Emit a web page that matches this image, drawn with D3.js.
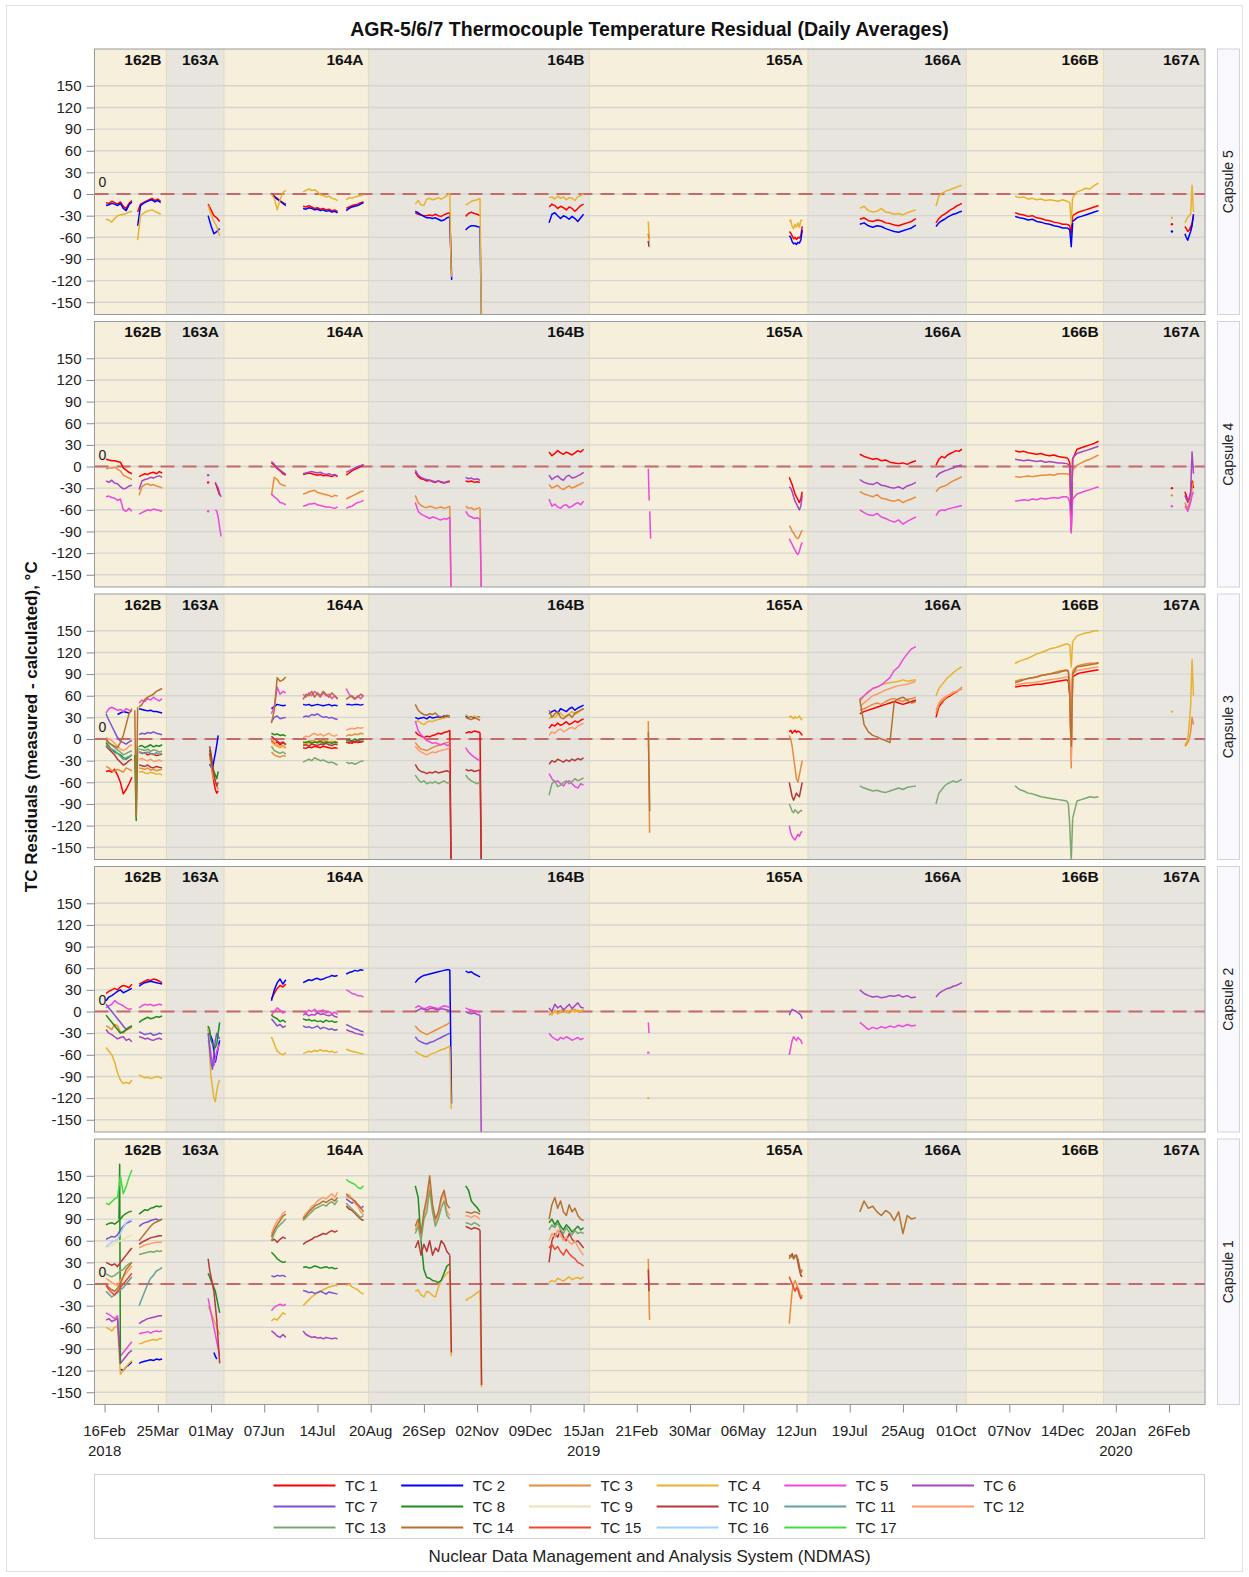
<!DOCTYPE html>
<html>
<head>
<meta charset="utf-8">
<script src="https://cdn.jsdelivr.net/npm/d3@7"></script>
<style>
  body { margin: 0; background: #fff; }
  svg { display: block; }
  text { font-family: "Liberation Sans", Arial, sans-serif; }
</style>
</head>
<body>
<svg id="chart" width="1249" height="1577"></svg>
<script>
// ---------- chart data ----------
const titleText = "AGR-5/6/7 Thermocouple Temperature Residual (Daily Averages)";
const yLabelText = "TC Residuals (measured - calculated), \u00B0C";
const footerText = "Nuclear Data Management and Analysis System (NDMAS)";

const tcNames = ["TC 1","TC 2","TC 3","TC 4","TC 5","TC 6","TC 7","TC 8","TC 9","TC 10","TC 11","TC 12","TC 13","TC 14","TC 15","TC 16","TC 17"];
const tcColors = ["#ff0000","#0000ff","#e88c3c","#e8b22e","#ee48dc","#a745c2","#7b52d6","#1e8c1e","#eee0b4","#b83838","#62a0a4","#ff9a6a","#7aa86e","#b5712f","#ee4634","#9fd0ff","#44dc44"];

const cycles = ["162B","163A","164A","164B","165A","166A","166B","167A"];
const cycleBreaks = ["2018-03-31","2018-05-10","2018-08-18T12:00Z","2019-01-19","2019-06-20","2019-10-08","2020-01-11T12:00Z"];
const xStart = "2018-02-09", xEnd = "2020-03-22";
const xTickDates = ["2018-02-16","2018-03-25","2018-05-01","2018-06-07","2018-07-14","2018-08-20","2018-09-26","2018-11-02","2018-12-09","2019-01-15","2019-02-21","2019-03-30","2019-05-06","2019-06-12","2019-07-19","2019-08-25","2019-10-01","2019-11-07","2019-12-14","2020-01-20","2020-02-26"];
const yearLabels = {"2018-02-16":"2018","2019-01-15":"2019","2020-01-20":"2020"};
const yTicks = [-150,-120,-90,-60,-30,0,30,60,90,120,150];
const yDomain = [-167, 201];
const capsuleNames = ["Capsule 5","Capsule 4","Capsule 3","Capsule 2","Capsule 1"];

// Each segment: [tc number, first day, days between readings, daily-average residuals]
const capsule5 = [
  [1,"2018-02-17",2,[-12,-13,-10,-12,-14,-11,-17,-20,-13,-9]],
  [2,"2018-02-17",2,[-16,-15,-13,-14,-16,-13,-20,-23,-15,-11]],
  [4,"2018-02-17",2,[-35,-36,-39,-34,-30,-29,-28,-27,-25,-24]],
  [1,"2018-03-11",2,[-25,-14,-12,-10,-8,-6,-9,-7,-10]],
  [2,"2018-03-11",2,[-44,-16,-13,-11,-9,-8,-11,-9,-12]],
  [4,"2018-03-11",2,[-64,-30,-27,-24,-23,-22,-24,-26,-28]],
  [1,"2018-04-29",2,[-14,-22,-30,-33,-38]],
  [2,"2018-04-29",2,[-30,-44,-55,-52,-48]],
  [4,"2018-04-29",2,[-16,-28,-38,-45,-58]],
  [1,"2018-06-12",2,[1,-3,-6,-9,-12,-14]],
  [2,"2018-06-12",2,[0,-4,-7,-10,-13,-16]],
  [4,"2018-06-12",2,[0,-6,-22,-8,2,5]],
  [1,"2018-07-04",2,[-17,-18,-16,-18,-20,-19,-21,-20,-22,-21,-23,-22,-24]],
  [2,"2018-07-04",2,[-20,-21,-19,-20,-22,-21,-23,-22,-24,-23,-25,-24,-26]],
  [4,"2018-07-04",2,[3,5,7,5,6,3,-1,-2,-4,-3,-6,-7,-9]],
  [1,"2018-08-03",2,[-20,-18,-16,-15,-14,-12,-11]],
  [2,"2018-08-03",2,[-23,-20,-18,-17,-16,-14,-12]],
  [4,"2018-08-03",2,[-8,-5,-6,-4,-3,-2,-1]],
  [1,"2018-09-20",2,[-26,-28,-29,-30,-30,-29,-30,-28,-30,-31,-29,-27,-26]],
  [2,"2018-09-20",2,[-24,-26,-29,-31,-33,-33,-34,-33,-35,-37,-36,-33,-32]],
  [4,"2018-09-20",2,[-14,-9,-15,-16,-7,-6,-8,-7,-5,-7,-5,-2,1]],
  [1,"2018-10-14",1,[-26,-105]],
  [4,"2018-10-14",1,[1,-115]],
  [2,"2018-10-14",1.3,[-32,-119]],
  [1,"2018-10-25",2,[-31,-27,-25,-27,-28,-30]],
  [2,"2018-10-25",2,[-50,-46,-44,-44,-45,-46]],
  [4,"2018-10-25",2,[-15,-13,-10,-9,-8,-6]],
  [4,"2018-11-04",1,[-6,-200]],
  [2,"2018-11-04",1.2,[-46,-200]],
  [1,"2018-12-22",2,[-18,-14,-16,-20,-17,-19,-22,-18,-20,-24,-20,-16,-14]],
  [2,"2018-12-22",2,[-40,-28,-26,-30,-34,-30,-32,-35,-31,-34,-38,-33,-28]],
  [4,"2018-12-22",2,[-5,-4,-7,-3,-6,-4,-8,-5,-6,-9,-4,-2,0]],
  [4,"2019-03-01",0.3,[-38,-50,-62,-74]],
  [1,"2019-03-01",0.5,[-55,-62]],
  [2,"2019-03-01",0.5,[-65,-73]],
  [4,"2019-06-07",1,[-38,-36,-45,-48,-42,-46,-40,-46,-37,-36]],
  [1,"2019-06-07",1,[-52,-54,-58,-62,-60,-63,-60,-61,-58,-45]],
  [2,"2019-06-07",1,[-58,-60,-66,-69,-68,-70,-67,-68,-64,-50]],
  [4,"2019-07-26",3,[-20,-17,-23,-25,-24,-20,-25,-26,-28,-27,-29,-26,-24,-22]],
  [1,"2019-07-26",3,[-35,-33,-37,-38,-36,-37,-40,-41,-43,-44,-42,-40,-38,-34]],
  [2,"2019-07-26",3,[-42,-40,-44,-46,-44,-45,-48,-50,-52,-53,-51,-49,-47,-43]],
  [4,"2019-09-17",2,[-17,-3,1,3,5,6,8,9,11,12]],
  [1,"2019-09-17",2,[-40,-34,-30,-28,-25,-22,-20,-17,-15,-13]],
  [2,"2019-09-17",2,[-45,-40,-37,-35,-32,-30,-28,-27,-25,-24]],
  [4,"2019-11-11",3,[-3,-5,-4,-7,-6,-8,-7,-9,-8,-9,-10,-8,-10]],
  [4,"2019-12-17",1,[-10,-11,-12,-40,-5]],
  [4,"2019-12-21",3,[-5,3,5,8,7,12,15]],
  [1,"2019-11-11",3,[-26,-28,-29,-31,-30,-33,-34,-36,-37,-39,-40,-42,-42]],
  [1,"2019-12-17",1,[-42,-43,-44,-55,-30]],
  [1,"2019-12-21",3,[-30,-26,-24,-22,-20,-18,-16]],
  [2,"2019-11-11",3,[-31,-33,-34,-36,-35,-38,-39,-41,-42,-44,-45,-47,-47]],
  [2,"2019-12-17",1,[-47,-48,-50,-73,-40]],
  [2,"2019-12-21",3,[-38,-33,-31,-29,-27,-25,-23]],
  [4,"2020-02-28",1,[-33]],
  [1,"2020-02-28",1,[-42]],
  [2,"2020-02-28",1,[-52]],
  [1,"2020-03-08",1,[-45,-48,-52,-50,-46,-40,-30]],
  [2,"2020-03-08",1,[-55,-60,-64,-58,-52,-44,-28]],
  [4,"2020-03-08",1,[-40,-36,-32,-30,-28,12,-25]]
];

const capsule4 = [
  [1,"2018-02-17",2,[10,9,8,8,7,6,-2,-5,-8,-10]],
  [3,"2018-02-17",2,[-3,-2,-2,-1,-4,-6,-12,-14,-16,-18]],
  [6,"2018-02-17",2,[-20,-22,-19,-23,-24,-28,-31,-30,-27,-26]],
  [5,"2018-02-17",2,[-42,-41,-43,-44,-47,-45,-60,-62,-58,-62]],
  [1,"2018-03-12",2,[-14,-12,-10,-11,-9,-8,-10,-7,-9]],
  [3,"2018-03-12",2,[-40,-28,-25,-24,-26,-25,-27,-28,-30]],
  [6,"2018-03-12",2,[-32,-20,-18,-17,-15,-16,-14,-13,-15]],
  [5,"2018-03-12",2,[-66,-64,-62,-60,-61,-59,-60,-61,-62]],
  [6,"2018-04-29",1,[-12]],
  [5,"2018-04-29",1,[-62]],
  [1,"2018-04-29",1,[-22]],
  [6,"2018-05-04",1,[-24,-26,-30,-38,-42]],
  [1,"2018-05-04",1,[-22,-28,-34,-40]],
  [5,"2018-05-04",1,[-60,-62,-70,-85,-97]],
  [6,"2018-06-12",2,[7,3,-2,-5,-8,-11]],
  [1,"2018-06-12",2,[5,2,-3,-6,-10,-12]],
  [3,"2018-06-12",2,[-40,-15,-18,-24,-26,-27]],
  [5,"2018-06-12",2,[-38,-42,-45,-50,-51,-53]],
  [6,"2018-07-04",2,[-10,-9,-8,-7,-8,-9,-8,-10,-11,-10,-12,-11,-13]],
  [1,"2018-07-04",2,[-11,-10,-9,-10,-11,-12,-11,-13,-12,-13,-14,-12,-14]],
  [3,"2018-07-04",2,[-38,-37,-35,-34,-33,-36,-37,-38,-39,-40,-42,-40,-41]],
  [5,"2018-07-04",2,[-55,-54,-52,-52,-51,-53,-54,-55,-56,-56,-57,-58,-56]],
  [6,"2018-08-03",2,[-8,-6,-4,-2,0,1,3]],
  [1,"2018-08-03",2,[-12,-9,-6,-4,-2,0,2]],
  [3,"2018-08-03",2,[-45,-43,-41,-39,-37,-35,-34]],
  [5,"2018-08-03",2,[-58,-56,-55,-52,-50,-49,-47]],
  [1,"2018-09-20",2,[-8,-14,-17,-18,-20,-19,-21,-22,-20,-22,-23,-21,-20]],
  [6,"2018-09-20",2,[-5,-12,-15,-17,-18,-19,-20,-21,-20,-21,-22,-22,-21]],
  [3,"2018-09-20",2,[-40,-50,-54,-56,-57,-55,-56,-58,-57,-56,-58,-57,-55]],
  [5,"2018-09-20",2,[-50,-62,-66,-68,-70,-72,-70,-71,-73,-74,-72,-73,-70]],
  [3,"2018-10-14",1,[-55,-200]],
  [5,"2018-10-14",1.2,[-70,-200]],
  [1,"2018-10-25",2,[-20,-21,-20,-22,-21,-22]],
  [6,"2018-10-25",2,[-15,-17,-16,-18,-17,-19]],
  [3,"2018-10-25",2,[-55,-58,-57,-60,-58,-57]],
  [5,"2018-10-25",2,[-62,-68,-70,-72,-71,-73]],
  [3,"2018-11-04",1,[-57,-200]],
  [5,"2018-11-04",1.2,[-73,-200]],
  [1,"2018-12-22",2,[20,15,18,22,19,17,20,18,16,19,22,20,24]],
  [6,"2018-12-22",2,[-12,-18,-15,-13,-17,-19,-14,-12,-16,-15,-13,-11,-8]],
  [3,"2018-12-22",2,[-25,-30,-28,-26,-30,-32,-29,-27,-30,-28,-26,-24,-22]],
  [5,"2018-12-22",2,[-45,-55,-52,-56,-58,-54,-53,-57,-55,-52,-50,-53,-48]],
  [5,"2019-03-01",0.3,[-3,-25,-47]],
  [5,"2019-03-02",0.3,[-62,-80,-100]],
  [1,"2019-06-07",1,[-15,-20,-25,-32,-38,-42,-46,-50,-45,-35]],
  [6,"2019-06-07",1,[-28,-30,-35,-42,-48,-52,-56,-60,-55,-40]],
  [3,"2019-06-07",1,[-82,-85,-90,-92,-96,-99,-100,-97,-92,-88]],
  [5,"2019-06-07",1,[-100,-104,-108,-112,-116,-120,-122,-118,-110,-105]],
  [1,"2019-07-26",3,[17,14,12,10,11,8,9,6,5,4,5,3,6,8]],
  [6,"2019-07-26",3,[-18,-22,-24,-25,-22,-26,-27,-29,-30,-28,-31,-27,-25,-22]],
  [3,"2019-07-26",3,[-35,-38,-40,-42,-39,-44,-45,-47,-48,-46,-50,-47,-45,-42]],
  [5,"2019-07-26",3,[-60,-64,-67,-68,-65,-70,-72,-75,-77,-74,-80,-76,-73,-70]],
  [1,"2019-09-17",2,[2,10,14,12,16,18,20,22,21,24]],
  [6,"2019-09-17",2,[-15,-10,-8,-6,-5,-3,-2,0,1,2]],
  [3,"2019-09-17",2,[-35,-30,-28,-27,-25,-22,-20,-18,-16,-14]],
  [5,"2019-09-17",2,[-68,-62,-60,-61,-59,-58,-57,-56,-55,-54]],
  [1,"2019-11-11",3,[22,20,21,19,18,17,18,16,15,16,14,13,12]],
  [1,"2019-12-17",1,[12,10,5,-90,10]],
  [1,"2019-12-21",3,[10,24,26,28,30,32,35]],
  [6,"2019-11-11",3,[10,9,8,9,8,7,8,6,7,6,5,5,4]],
  [6,"2019-12-17",1,[4,3,0,-60,12]],
  [6,"2019-12-21",3,[12,18,20,22,24,26,28]],
  [3,"2019-11-11",3,[-14,-15,-14,-13,-14,-13,-12,-12,-11,-12,-10,-10,-10]],
  [3,"2019-12-17",1,[-10,-11,-12,-40,-5]],
  [3,"2019-12-21",3,[-5,2,5,8,10,13,16]],
  [5,"2019-11-11",3,[-48,-47,-46,-47,-45,-46,-44,-45,-44,-43,-44,-42,-42]],
  [5,"2019-12-17",1,[-42,-44,-50,-92,-45]],
  [5,"2019-12-21",3,[-45,-38,-36,-34,-32,-30,-28]],
  [1,"2020-02-28",1,[-30]],
  [3,"2020-02-28",1,[-40]],
  [5,"2020-02-28",1,[-55]],
  [1,"2020-03-08",1,[-35,-40,-48,-44,-38,-20,-30]],
  [6,"2020-03-08",1,[-40,-45,-50,-45,-35,20,-10]],
  [3,"2020-03-08",1,[-50,-54,-58,-52,-45,-30,-20]],
  [5,"2020-03-08",1,[-55,-58,-62,-56,-50,-40,-35]]
];

const capsule3 = [
  [5,"2018-02-17",2,[36,42,44,42,40,41,38,42,40,38]],
  [2,"2018-02-25",2,[34,36,38,37,36]],
  [7,"2018-02-17",2,[35,26,18,10,2,-3,-5,-7,-4,-2]],
  [14,"2018-02-17",2,[0,-5,-8,-10,-12,-5,5,20,35,42]],
  [8,"2018-02-17",2,[-5,-10,-15,-18,-20,-22,-26,-28,-25,-22]],
  [3,"2018-02-17",2,[-38,-40,-44,-45,-42,-44,-46,-40,-42,-44]],
  [1,"2018-02-17",2,[-45,-44,-46,-42,-50,-60,-76,-70,-62,-53]],
  [13,"2018-02-17",2,[-2,-6,-8,-12,-15,-18,-22,-20,-18,-16]],
  [11,"2018-02-17",2,[-8,-12,-14,-16,-20,-24,-28,-26,-24,-22]],
  [12,"2018-02-17",2,[2,0,-2,-6,-10,-14,-16,-14,-10,-8]],
  [10,"2018-02-17",2,[-10,-14,-18,-22,-28,-32,-36,-34,-30,-28]],
  [8,"2018-03-09",1,[-22,-113,-10]],
  [14,"2018-03-09",1,[40,-108,44]],
  [14,"2018-03-12",2,[44,48,55,58,60,62,66,68,70]],
  [5,"2018-03-12",2,[50,54,52,56,54,58,55,53,56]],
  [2,"2018-03-12",2,[42,41,40,39,40,38,38,37,36]],
  [7,"2018-03-12",2,[6,8,7,9,8,10,8,7,6]],
  [8,"2018-03-12",2,[-10,-9,-12,-10,-8,-11,-9,-10,-8]],
  [13,"2018-03-12",2,[-14,-15,-16,-14,-17,-15,-16,-18,-17]],
  [11,"2018-03-12",2,[-18,-19,-20,-18,-20,-22,-19,-21,-20]],
  [1,"2018-03-12",2,[-18,-20,-19,-22,-20,-21,-23,-22,-21]],
  [10,"2018-03-12",2,[-36,-37,-38,-36,-39,-40,-38,-39,-40]],
  [4,"2018-03-12",2,[-46,-45,-47,-48,-46,-47,-49,-48,-50]],
  [3,"2018-03-12",2,[-40,-41,-42,-40,-43,-42,-44,-43,-42]],
  [12,"2018-03-12",2,[-28,-27,-29,-30,-28,-31,-30,-29,-31]],
  [2,"2018-04-30",1,[-35,-38,-42,-30,-20,-8,5]],
  [8,"2018-04-30",1,[-15,-25,-40,-45,-50,-55,-45]],
  [1,"2018-04-30",1,[-20,-30,-45,-60,-70,-75,-72]],
  [3,"2018-04-30",1,[-25,-35,-50,-55,-60,-65,-70]],
  [10,"2018-04-30",1,[-10,-20,-35,-48,-58,-65,-60]],
  [14,"2018-06-12",2,[22,40,85,80,82,86]],
  [5,"2018-06-12",2,[35,45,72,62,66,64]],
  [2,"2018-06-12",2,[42,45,48,47,46,47]],
  [7,"2018-06-12",2,[24,30,32,28,29,30]],
  [8,"2018-06-12",2,[8,6,7,5,6,4]],
  [1,"2018-06-12",2,[-2,-6,-4,-8,-5,-7]],
  [10,"2018-06-12",2,[4,0,-3,-6,-4,-8]],
  [12,"2018-06-12",2,[0,-4,-8,-10,-9,-11]],
  [13,"2018-06-12",2,[-10,-16,-18,-20,-18,-21]],
  [3,"2018-06-12",2,[-18,-22,-24,-25,-23,-24]],
  [4,"2018-06-12",2,[-4,-8,-10,-12,-10,-13]],
  [14,"2018-07-04",2,[55,62,60,66,58,64,60,66,62,58,64,60,56]],
  [5,"2018-07-04",2,[62,58,64,60,66,62,58,64,60,62,56,60,55]],
  [2,"2018-07-04",2,[48,47,48,46,47,48,47,46,47,48,46,47,46]],
  [7,"2018-07-04",2,[30,32,31,34,33,35,32,30,31,29,30,28,27]],
  [12,"2018-07-04",2,[2,4,3,6,8,5,7,4,6,8,5,4,6]],
  [3,"2018-07-04",2,[-6,-4,-5,-2,-3,-4,-1,-3,-2,-4,-3,-5,-4]],
  [8,"2018-07-04",2,[-4,-5,-3,-6,-4,-5,-3,-6,-4,-5,-6,-4,-5]],
  [4,"2018-07-04",2,[-8,-6,-7,-5,-3,-6,-4,-5,-2,-4,-5,-3,-6]],
  [1,"2018-07-04",2,[-12,-13,-11,-12,-10,-11,-12,-10,-11,-12,-13,-12,-13]],
  [10,"2018-07-04",2,[-9,-8,-10,-7,-8,-9,-7,-8,-6,-8,-9,-7,-8]],
  [13,"2018-07-04",2,[-32,-30,-28,-30,-26,-28,-30,-29,-31,-33,-32,-34,-36]],
  [5,"2018-08-03",2,[70,62,58,55,60,56,60]],
  [14,"2018-08-03",2,[55,58,60,56,58,62,60]],
  [2,"2018-08-03",2,[48,48,47,48,48,47,48]],
  [12,"2018-08-03",2,[12,14,15,14,16,15,16]],
  [3,"2018-08-03",2,[4,6,5,7,6,8,7]],
  [8,"2018-08-03",2,[-2,-1,-3,0,-2,-1,0]],
  [1,"2018-08-03",2,[-5,-4,-6,-3,-5,-4,-3]],
  [10,"2018-08-03",2,[-4,-6,-3,-5,-2,-4,-3]],
  [13,"2018-08-03",2,[-32,-34,-33,-35,-33,-31,-30]],
  [14,"2018-09-20",2,[48,40,36,34,33,35,34,36,32,31,30,33,32]],
  [2,"2018-09-20",2,[30,28,29,30,28,31,29,30,31,30,32,31,30]],
  [4,"2018-09-20",2,[24,25,22,20,23,25,24,26,27,28,29,30,31]],
  [5,"2018-09-20",2,[25,12,6,2,-2,-4,-6,-5,-7,-8,-6,-9,-8]],
  [1,"2018-09-20",2,[10,6,4,2,4,3,5,6,8,7,9,10,12]],
  [3,"2018-09-20",2,[-5,-10,-14,-15,-16,-14,-12,-10,-9,-8,-6,-5,-4]],
  [12,"2018-09-20",2,[-10,-15,-18,-20,-22,-20,-18,-19,-17,-16,-15,-14,-12]],
  [10,"2018-09-20",2,[-35,-42,-45,-46,-48,-46,-47,-45,-47,-46,-45,-44,-46]],
  [13,"2018-09-20",2,[-50,-56,-60,-58,-62,-60,-61,-59,-62,-60,-58,-61,-60]],
  [1,"2018-10-14",1,[12,-200]],
  [10,"2018-10-14",1.1,[-46,-200]],
  [2,"2018-10-25",2,[32,30,31,29,30,31]],
  [4,"2018-10-25",2,[34,31,30,32,29,31]],
  [14,"2018-10-25",2,[30,28,27,29,28,26]],
  [1,"2018-10-25",2,[8,10,9,11,10,9]],
  [5,"2018-10-25",2,[-12,-18,-22,-25,-28,-30]],
  [10,"2018-10-25",2,[-42,-44,-43,-45,-44,-43]],
  [13,"2018-10-25",2,[-50,-55,-58,-60,-62,-59]],
  [1,"2018-11-04",1,[9,-200]],
  [10,"2018-11-04",1.1,[-43,-200]],
  [2,"2018-12-22",2,[35,38,40,36,42,40,38,42,44,40,43,45,47]],
  [4,"2018-12-22",2,[28,32,30,34,36,32,30,35,38,34,36,40,42]],
  [1,"2018-12-22",2,[15,20,18,22,19,21,24,20,22,25,23,26,28]],
  [12,"2018-12-22",2,[5,10,8,12,14,10,12,15,16,14,18,20,22]],
  [14,"2018-12-22",2,[40,30,35,38,30,28,32,34,30,36,38,40,42]],
  [10,"2018-12-22",2,[-35,-30,-32,-28,-30,-32,-29,-31,-28,-30,-27,-29,-26]],
  [5,"2018-12-22",2,[-48,-55,-60,-58,-62,-65,-60,-58,-62,-66,-68,-62,-64]],
  [13,"2018-12-22",2,[-78,-62,-58,-66,-64,-60,-58,-62,-59,-55,-58,-56,-54]],
  [3,"2019-03-01",0.3,[25,-30,-90,-130]],
  [14,"2019-03-01",0.5,[10,-40,-100]],
  [4,"2019-06-07",1,[30,32,30,28,31,29,30,32,28,26]],
  [1,"2019-06-07",1,[10,12,8,10,12,9,11,10,8,5]],
  [3,"2019-06-07",1,[5,0,-10,-25,-40,-55,-60,-50,-40,-30]],
  [10,"2019-06-07",1,[-60,-70,-80,-85,-80,-75,-78,-80,-70,-60]],
  [13,"2019-06-07",1,[-90,-95,-100,-102,-98,-100,-103,-101,-99,-100]],
  [5,"2019-06-07",1,[-120,-130,-135,-138,-140,-136,-132,-135,-130,-128]],
  [5,"2019-07-26",3,[55,60,65,70,72,75,80,85,95,100,110,118,125,128]],
  [4,"2019-07-26",3,[52,60,66,70,72,75,77,78,79,80,82,80,81,82]],
  [12,"2019-07-26",3,[45,50,55,60,62,65,68,70,72,74,75,76,78,80]],
  [1,"2019-07-26",3,[35,38,40,42,44,46,48,50,52,50,48,50,52,54]],
  [3,"2019-07-26",3,[40,42,45,48,50,48,52,55,56,54,52,55,56,58]],
  [14,"2019-07-26",3,[55,20,10,5,3,0,-2,-5,52,56,58,54,50,52]],
  [13,"2019-07-26",3,[-65,-68,-70,-72,-71,-73,-74,-72,-70,-68,-70,-67,-66,-65]],
  [4,"2019-09-17",2,[60,70,75,80,85,88,92,95,98,100]],
  [12,"2019-09-17",2,[40,50,55,58,60,62,64,66,68,70]],
  [1,"2019-09-17",2,[30,45,50,55,58,60,63,65,68,70]],
  [3,"2019-09-17",2,[35,48,52,56,60,62,65,66,68,72]],
  [13,"2019-09-17",2,[-90,-75,-70,-65,-62,-60,-58,-60,-58,-56]],
  [4,"2019-11-11",3,[105,108,110,112,115,118,120,122,125,126,128,130,132]],
  [4,"2019-12-17",1,[132,131,130,100,135]],
  [4,"2019-12-21",3,[135,143,145,147,148,150,150]],
  [3,"2019-11-11",3,[80,82,83,84,85,86,88,89,90,92,94,95,96]],
  [3,"2019-12-17",1,[96,94,80,-40,95]],
  [3,"2019-12-21",3,[95,101,103,104,105,105,106]],
  [12,"2019-11-11",3,[75,76,77,78,78,79,80,81,82,83,84,85,86]],
  [12,"2019-12-17",1,[86,85,70,-30,90]],
  [12,"2019-12-21",3,[90,95,96,97,98,99,100]],
  [1,"2019-11-11",3,[72,73,74,74,75,76,76,77,78,79,80,81,82]],
  [1,"2019-12-17",1,[82,80,60,-20,86]],
  [1,"2019-12-21",3,[86,90,92,93,94,95,96]],
  [14,"2019-11-11",3,[78,80,82,84,85,86,88,89,90,91,92,94,95]],
  [14,"2019-12-17",1,[95,94,60,-10,90]],
  [14,"2019-12-21",3,[90,100,101,102,103,104,105]],
  [13,"2019-11-11",3,[-65,-70,-72,-75,-76,-78,-80,-81,-82,-83,-84,-85,-86]],
  [13,"2019-12-17",1,[-86,-90,-120,-170,-110]],
  [13,"2019-12-21",3,[-110,-86,-84,-82,-80,-81,-80]],
  [4,"2020-02-28",1,[38]],
  [4,"2020-03-08",1,[-8,-5,0,20,45,110,60]],
  [3,"2020-03-08",1,[-10,-8,-5,0,10,30,20]]
];

const capsule2 = [
  [1,"2018-02-17",2,[25,28,30,32,30,34,36,35,33,38]],
  [2,"2018-02-17",2,[15,20,22,25,28,30,26,28,30,32]],
  [5,"2018-02-17",2,[5,8,10,15,12,10,8,5,3,4]],
  [7,"2018-02-17",2,[10,5,0,-5,-10,-15,-20,-25,-22,-20]],
  [8,"2018-02-17",2,[-5,-10,-15,-20,-25,-30,-28,-25,-22,-20]],
  [3,"2018-02-17",2,[-20,-22,-25,-18,-20,-28,-30,-26,-24,-22]],
  [4,"2018-02-17",2,[-50,-55,-60,-70,-85,-95,-100,-98,-100,-95]],
  [6,"2018-02-17",2,[-25,-30,-32,-35,-38,-36,-35,-40,-38,-42]],
  [1,"2018-03-12",2,[38,40,42,44,43,45,44,42,40]],
  [2,"2018-03-12",2,[35,38,40,41,42,41,40,39,38]],
  [5,"2018-03-12",2,[5,8,10,9,10,8,9,10,9]],
  [8,"2018-03-12",2,[-15,-12,-10,-8,-10,-9,-7,-8,-6]],
  [7,"2018-03-12",2,[-28,-30,-32,-31,-30,-33,-32,-30,-31]],
  [6,"2018-03-12",2,[-35,-36,-38,-37,-39,-40,-38,-37,-39]],
  [4,"2018-03-12",2,[-88,-90,-92,-91,-93,-92,-90,-91,-93]],
  [4,"2018-04-29",1,[-20,-60,-90,-105,-120,-125,-110,-100,-95]],
  [8,"2018-04-29",1,[-20,-25,-40,-45,-48,-50,-45,-30,-15]],
  [7,"2018-04-29",1,[-30,-50,-70,-80,-60,-40,-30,-35,-38]],
  [5,"2018-04-29",1,[-40,-45,-60,-70,-75,-65,-55,-50,-45]],
  [2,"2018-04-29",1,[-25,-30,-35,-40,-55,-70,-60,-50,-40]],
  [2,"2018-06-12",2,[15,30,40,45,38,44]],
  [1,"2018-06-12",2,[18,25,32,36,34,38]],
  [5,"2018-06-12",2,[-5,0,5,2,-2,0]],
  [8,"2018-06-12",2,[-5,-8,-10,-14,-12,-15]],
  [7,"2018-06-12",2,[-10,-15,-20,-18,-22,-20]],
  [4,"2018-06-12",2,[-35,-45,-55,-58,-60,-57]],
  [2,"2018-07-04",2,[40,42,44,43,45,46,44,45,47,48,50,49,50]],
  [5,"2018-07-04",2,[0,-2,2,0,3,-1,1,2,-2,0,-3,-1,-4]],
  [6,"2018-07-04",2,[-5,-3,-6,-4,-5,-2,-4,-3,-5,-6,-4,-7,-8]],
  [8,"2018-07-04",2,[-10,-12,-11,-13,-12,-14,-13,-15,-12,-14,-13,-15,-14]],
  [7,"2018-07-04",2,[-20,-22,-21,-23,-22,-20,-24,-22,-23,-25,-24,-26,-25]],
  [4,"2018-07-04",2,[-58,-57,-55,-56,-54,-55,-53,-55,-54,-56,-55,-57,-56]],
  [2,"2018-08-03",2,[52,54,55,57,56,58,57]],
  [5,"2018-08-03",2,[30,28,25,24,22,22,20]],
  [7,"2018-08-03",2,[-18,-20,-22,-24,-25,-27,-28]],
  [6,"2018-08-03",2,[-25,-27,-28,-30,-31,-32,-33]],
  [4,"2018-08-03",2,[-52,-54,-55,-56,-57,-58,-59]],
  [2,"2018-09-20",2,[40,45,48,50,51,52,53,54,55,56,57,58,58]],
  [5,"2018-09-20",2,[5,8,6,4,5,7,6,5,4,6,8,7,6]],
  [6,"2018-09-20",2,[0,2,4,3,2,4,5,3,2,4,3,2,1]],
  [3,"2018-09-20",2,[-20,-25,-28,-30,-32,-30,-28,-26,-24,-22,-20,-18,-15]],
  [7,"2018-09-20",2,[-35,-40,-42,-44,-45,-43,-42,-40,-38,-36,-34,-32,-30]],
  [4,"2018-09-20",2,[-55,-58,-60,-62,-63,-60,-58,-57,-55,-53,-52,-50,-48]],
  [4,"2018-10-14",1,[-48,-135]],
  [2,"2018-10-14",1.2,[58,-128]],
  [2,"2018-10-25",2,[56,54,55,52,50,48]],
  [6,"2018-10-25",2,[0,-2,-3,-2,-4,-5]],
  [5,"2018-10-25",2,[5,3,2,1,0,-1]],
  [6,"2018-11-04",1,[-5,-200]],
  [6,"2018-12-22",2,[5,0,10,5,8,2,6,10,4,8,12,6,5]],
  [4,"2018-12-22",2,[0,-5,2,-3,0,4,-2,1,3,-1,2,0,3]],
  [3,"2018-12-22",2,[-5,-2,0,-3,-1,2,0,-2,1,3,0,-1,2]],
  [5,"2018-12-22",2,[-30,-35,-38,-40,-36,-38,-35,-37,-40,-38,-36,-39,-37]],
  [5,"2019-03-01",0.5,[-15,-30]],
  [5,"2019-03-01",1,[-57]],
  [4,"2019-03-01",1,[-120]],
  [6,"2019-06-07",1,[-5,0,3,2,1,0,-2,-3,-5,-10]],
  [5,"2019-06-07",1,[-60,-50,-40,-35,-38,-40,-36,-38,-40,-45]],
  [6,"2019-07-26",3,[30,25,22,20,21,19,20,22,21,23,20,22,19,20]],
  [5,"2019-07-26",3,[-15,-20,-25,-22,-24,-21,-23,-20,-22,-19,-21,-18,-20,-19]],
  [6,"2019-09-17",2,[20,25,28,30,32,33,35,36,38,40]]
];

const capsule1 = [
  [17,"2018-02-17",2,[112,110,114,118,120,150,125,135,148,158]],
  [8,"2018-02-17",2,[82,84,85,83,86,90,95,98,100,101]],
  [7,"2018-02-17",2,[62,64,66,65,68,75,80,84,86,88]],
  [16,"2018-02-17",2,[52,55,58,60,62,70,78,85,88,88]],
  [9,"2018-02-17",2,[50,52,54,56,58,60,62,64,66,68]],
  [10,"2018-02-17",2,[30,28,26,28,24,30,35,40,45,50]],
  [13,"2018-02-17",2,[14,12,10,12,15,18,20,25,28,30]],
  [12,"2018-02-17",2,[8,5,2,0,-2,5,10,15,20,25]],
  [14,"2018-02-17",2,[0,-5,-8,-10,-6,0,10,20,25,30]],
  [15,"2018-02-17",2,[-2,-8,-12,-15,-10,-5,0,5,10,15]],
  [11,"2018-02-17",2,[-10,-14,-18,-15,-12,-8,-5,0,5,10]],
  [5,"2018-02-17",2,[-40,-42,-45,-48,-44,-100,-95,-90,-85,-80]],
  [6,"2018-02-17",2,[-50,-48,-52,-50,-48,-110,-105,-100,-95,-92]],
  [4,"2018-02-17",2,[-60,-62,-65,-60,-58,-125,-120,-115,-110,-106]],
  [8,"2018-02-26",0.5,[90,166,-110]],
  [2,"2018-02-27",2,[-118,-120,-115,-112,-108]],
  [8,"2018-03-12",2,[97,100,103,102,105,106,108,107,108]],
  [7,"2018-03-12",2,[80,83,85,86,88,89,90,88,90]],
  [14,"2018-03-12",2,[60,65,70,75,80,84,86,88,90]],
  [10,"2018-03-12",2,[55,58,60,62,64,65,66,67,67]],
  [12,"2018-03-12",2,[50,52,54,55,56,57,58,58,58]],
  [13,"2018-03-12",2,[41,42,43,44,45,44,46,45,46]],
  [11,"2018-03-12",2,[-30,-20,-10,0,8,12,18,20,23]],
  [6,"2018-03-12",2,[-55,-52,-50,-48,-47,-46,-45,-44,-44]],
  [5,"2018-03-12",2,[-69,-68,-67,-66,-68,-66,-65,-66,-65]],
  [4,"2018-03-12",2,[-83,-82,-80,-79,-78,-77,-78,-76,-76]],
  [2,"2018-03-12",2,[-110,-108,-107,-106,-105,-106,-104,-105,-104]],
  [10,"2018-04-29",1,[35,20,10,0,-10,-30,-50,-80,-110]],
  [8,"2018-04-29",1,[15,10,5,0,-5,-10,-20,-30,-40]],
  [5,"2018-04-29",1,[-20,-30,-40,-50,-60,-70,-80,-90,-100]],
  [4,"2018-04-29",1,[-30,-35,-40,-45,-50,-55,-60,-65,-70]],
  [2,"2018-05-03",1,[-95,-100,-104]],
  [13,"2018-06-12",2,[60,70,78,82,86,90]],
  [12,"2018-06-12",2,[69,80,88,92,98,101]],
  [14,"2018-06-12",2,[65,75,82,88,94,97]],
  [10,"2018-06-12",2,[60,62,58,62,65,63]],
  [8,"2018-06-12",2,[44,40,35,32,30,31]],
  [7,"2018-06-12",2,[11,10,12,11,12,10]],
  [5,"2018-06-12",2,[-37,-32,-30,-28,-30,-28]],
  [4,"2018-06-12",2,[-51,-48,-50,-45,-40,-42]],
  [6,"2018-06-12",2,[-65,-68,-72,-74,-70,-74]],
  [12,"2018-07-04",2,[92,98,102,108,110,115,118,120,118,122,125,120,127]],
  [14,"2018-07-04",2,[90,95,100,104,108,110,112,115,113,116,118,115,120]],
  [13,"2018-07-04",2,[88,92,96,100,104,106,108,110,108,112,114,110,116]],
  [10,"2018-07-04",2,[55,58,60,62,65,66,68,70,69,72,74,72,74]],
  [8,"2018-07-04",2,[23,24,22,23,25,24,22,23,24,22,23,21,22]],
  [7,"2018-07-04",2,[-9,-10,-12,-11,-13,-12,-10,-12,-14,-11,-12,-13,-14]],
  [4,"2018-07-04",2,[-30,-26,-22,-18,-15,-12,-10,-8,-6,-4,-3,-2,-2]],
  [6,"2018-07-04",2,[-65,-70,-72,-74,-73,-75,-74,-76,-74,-75,-76,-75,-76]],
  [17,"2018-08-03",2,[145,142,140,138,134,132,136]],
  [7,"2018-08-03",2,[118,115,112,115,110,105,108]],
  [14,"2018-08-03",2,[125,120,118,115,110,106,100]],
  [12,"2018-08-03",2,[120,124,118,112,108,100,96]],
  [13,"2018-08-03",2,[112,108,104,100,96,92,95]],
  [10,"2018-08-03",2,[108,104,102,98,94,90,88]],
  [4,"2018-08-03",2,[-2,0,-4,-6,-8,-12,-14]],
  [8,"2018-09-20",2,[136,120,60,20,9,8,5,4,2,5,15,25,28]],
  [14,"2018-09-20",2,[80,90,70,100,120,150,110,90,100,120,130,110,105]],
  [12,"2018-09-20",2,[75,85,65,95,110,140,105,85,95,115,125,100,95]],
  [13,"2018-09-20",2,[70,80,60,90,100,130,100,80,90,105,115,95,90]],
  [10,"2018-09-20",2,[50,60,40,55,45,60,40,50,45,60,55,45,40]],
  [4,"2018-09-20",2,[-10,-8,-15,-18,-10,-12,-16,-18,-5,5,10,15,18]],
  [4,"2018-10-14",1,[18,-100]],
  [10,"2018-10-14",1.1,[40,-95]],
  [8,"2018-10-25",2,[136,130,115,110,106,100]],
  [14,"2018-10-25",2,[100,99,98,100,99,97]],
  [12,"2018-10-25",2,[95,94,92,95,93,90]],
  [13,"2018-10-25",2,[85,84,82,85,83,80]],
  [10,"2018-10-25",2,[80,78,76,78,77,75]],
  [4,"2018-10-25",2,[-23,-20,-18,-15,-12,-9]],
  [4,"2018-11-04",1,[-9,-143]],
  [10,"2018-11-04",1.1,[75,-140]],
  [14,"2018-12-22",2,[90,110,120,105,115,100,95,110,100,105,95,90,88]],
  [8,"2018-12-22",2,[85,90,82,88,80,75,82,78,72,76,80,75,78]],
  [13,"2018-12-22",2,[75,82,78,85,75,70,78,72,68,74,70,72,70]],
  [10,"2018-12-22",2,[30,60,70,65,75,65,60,70,62,58,60,55,50]],
  [12,"2018-12-22",2,[60,70,65,75,68,60,65,58,55,60,52,45,40]],
  [15,"2018-12-22",2,[50,55,48,52,45,40,48,42,38,35,30,28,25]],
  [4,"2018-12-22",2,[2,5,3,8,6,4,7,10,6,8,9,7,10]],
  [3,"2019-03-01",0.3,[35,0,-30,-50]],
  [10,"2019-03-01",0.5,[20,-10]],
  [10,"2019-06-07",1,[40,38,42,35,38,40,30,20,12,10]],
  [14,"2019-06-07",1,[35,40,38,36,40,38,35,25,15,20]],
  [3,"2019-06-07",1,[-55,-30,-10,0,5,0,-5,-10,-20,-15]],
  [15,"2019-06-07",1,[10,5,0,-5,-10,-5,-8,-15,-20,-18]],
  [14,"2019-07-26",3,[100,115,105,108,100,95,102,98,88,100,70,95,90,92]]
];

const capsules = [capsule5, capsule4, capsule3, capsule2, capsule1];

// ---------- layout ----------
const svg = d3.select("#chart");
const plotL = 94.5, plotR = 1205;
const top0 = 49, pitch = 272.5, panelH = 265.5;
const parse = s => new Date(s.length === 10 ? s + "T00:00:00Z" : s);
const dayMs = 864e5;
const fontFamily = '"Liberation Sans", Arial, sans-serif';

const x = d3.scaleUtc().domain([parse(xStart), parse(xEnd)]).range([plotL, plotR]);
const color = i => tcColors[i - 1];

svg.append("rect").attr("x", 6.5).attr("y", 5.5).attr("width", 1236).attr("height", 1566)
  .attr("fill", "#fff").attr("stroke", "#e2e2e2");

svg.append("text").attr("x", 649.5).attr("y", 36).attr("text-anchor", "middle")
  .attr("font-size", 19.5).attr("font-weight", "bold").attr("fill", "#111").text(titleText);

const bandEdges = [xStart, ...cycleBreaks, xEnd].map(parse);
const bandFill = ["#f5efdb", "#e8e5df"];

capsules.forEach((segs, p) => {
  const top = top0 + p * pitch;
  const y = d3.scaleLinear().domain(yDomain).range([top + panelH, top]);
  const g = svg.append("g");

  const clipId = "clip" + p;
  svg.append("clipPath").attr("id", clipId).append("rect")
    .attr("x", plotL).attr("y", top).attr("width", plotR - plotL).attr("height", panelH);

  // cycle bands
  cycles.forEach((c, i) => {
    const x0 = x(bandEdges[i]), x1 = x(bandEdges[i + 1]);
    g.append("rect").attr("x", x0).attr("y", top).attr("width", x1 - x0).attr("height", panelH)
      .attr("fill", bandFill[i % 2]);
    if (i > 0) g.append("line").attr("x1", x0).attr("x2", x0).attr("y1", top).attr("y2", top + panelH)
      .attr("stroke", "#e6dcbc").attr("stroke-width", 1.2);
    g.append("text").attr("x", x1 - 5).attr("y", top + 15.5).attr("text-anchor", "end")
      .attr("font-size", 15.5).attr("font-weight", "bold").attr("fill", "#111").text(c);
  });

  // horizontal grid
  g.selectAll(".grid").data(yTicks).join("line")
    .attr("x1", plotL).attr("x2", plotR).attr("y1", d => y(d)).attr("y2", d => y(d))
    .attr("stroke", "#d6d5d2").attr("stroke-width", 1.4);

  // zero reference
  g.append("line").attr("x1", plotL).attr("x2", plotR).attr("y1", y(0)).attr("y2", y(0))
    .attr("stroke", "#c46a6a").attr("stroke-width", 2).attr("stroke-dasharray", "14,8");
  g.append("text").attr("x", 98.5).attr("y", y(0) - 7).attr("font-size", 14).attr("fill", "#222").text("0");

  // residual traces, drawn in TC order
  const line = d3.line().x(d => x(d.t)).y(d => y(d.v));
  const lines = g.append("g").attr("clip-path", `url(#${clipId})`);
  const sorted = segs.slice().sort((a, b) => a[0] - b[0]);
  sorted.forEach(([tc, start, step, vals]) => {
    const t0 = parse(start).getTime();
    const pts = vals.map((v, i) => ({ t: new Date(t0 + i * step * dayMs), v }));
    if (pts.length === 1) {
      lines.append("circle").attr("cx", x(pts[0].t)).attr("cy", y(pts[0].v)).attr("r", 1.2).attr("fill", color(tc));
    } else {
      lines.append("path").attr("d", line(pts)).attr("fill", "none")
        .attr("stroke", color(tc)).attr("stroke-width", 1.5).attr("stroke-linejoin", "round");
    }
  });

  // frame
  g.append("rect").attr("x", plotL).attr("y", top).attr("width", plotR - plotL).attr("height", panelH)
    .attr("fill", "none").attr("stroke", "#9a9a9a").attr("stroke-width", 1);

  // y axis
  const ya = svg.append("g").attr("transform", `translate(${plotL},0)`)
    .call(d3.axisLeft(y).tickValues(yTicks).tickSize(8).tickPadding(5).tickFormat(d => String(d)));
  ya.select(".domain").remove();
  ya.selectAll(".tick line").attr("stroke", "#8a8a8a");
  ya.selectAll(".tick text").attr("font-size", 15).attr("fill", "#222").attr("font-family", fontFamily);

  // capsule strip
  svg.append("rect").attr("x", 1217.5).attr("y", top).attr("width", 22).attr("height", panelH)
    .attr("fill", "#f9f9fd").attr("stroke", "#d4d4d8");
  svg.append("text").attr("transform", `translate(1233,${top + panelH / 2}) rotate(-90)`)
    .attr("text-anchor", "middle").attr("font-size", 14).attr("fill", "#222").text(capsuleNames[p]);
});

// x axis under the last panel
const axisY = top0 + 4 * pitch + panelH;
const xa = svg.append("g").attr("transform", `translate(0,${axisY})`)
  .call(d3.axisBottom(x).tickValues(xTickDates.map(parse)).tickSize(8).tickFormat(""));
xa.select(".domain").remove();
xa.selectAll(".tick line").attr("stroke", "#8a8a8a");
const fmt = d3.utcFormat("%d%b");
xTickDates.forEach(s => {
  const t = parse(s);
  svg.append("text").attr("x", x(t)).attr("y", axisY + 31).attr("text-anchor", "middle")
    .attr("font-size", 15).attr("fill", "#222").text(fmt(t));
  if (yearLabels[s]) {
    svg.append("text").attr("x", x(t)).attr("y", axisY + 51).attr("text-anchor", "middle")
      .attr("font-size", 15).attr("fill", "#222").text(yearLabels[s]);
  }
});

// y axis title
svg.append("text").attr("transform", `translate(37,${top0 + (4 * pitch + panelH) / 2}) rotate(-90)`)
  .attr("text-anchor", "middle").attr("font-size", 17).attr("font-weight", "bold").attr("fill", "#111")
  .text(yLabelText);

// legend
svg.append("rect").attr("x", 94.5).attr("y", 1474.5).attr("width", 1110).attr("height", 64)
  .attr("fill", "#fff").attr("stroke", "#cfcfcf");
tcNames.forEach((n, i) => {
  const c = i % 6, r = Math.floor(i / 6);
  const lx = 273.5 + c * 127.7, ly = 1485.5 + r * 21;
  svg.append("line").attr("x1", lx).attr("x2", lx + 62).attr("y1", ly).attr("y2", ly)
    .attr("stroke", tcColors[i]).attr("stroke-width", 2);
  svg.append("text").attr("x", lx + 71.5).attr("y", ly + 5.5).attr("font-size", 15).attr("fill", "#222").text(n);
});

svg.append("text").attr("x", 649.5).attr("y", 1562).attr("text-anchor", "middle")
  .attr("font-size", 17).attr("fill", "#222").text(footerText);
</script>
</body>
</html>
